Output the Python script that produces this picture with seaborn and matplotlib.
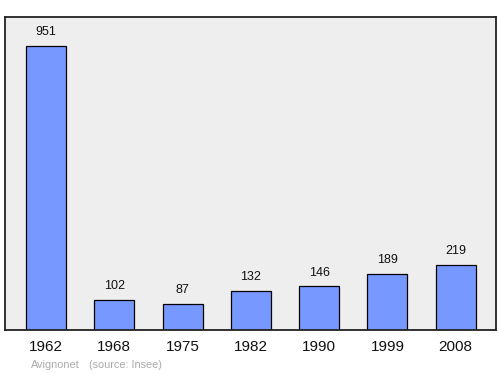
import matplotlib
matplotlib.use("Agg")
import matplotlib.pyplot as plt
import seaborn as sns
import pandas as pd

years = ["1962", "1968", "1975", "1982", "1990", "1999", "2008"]
population = [951, 102, 87, 132, 146, 189, 219]

sns.set_style("white")
plt.rcParams['font.family'] = ['Liberation Sans', 'DejaVu Sans']

df = pd.DataFrame({"year": years, "pop": population})

fig = plt.figure(figsize=(5, 3.74), dpi=100)
ax = fig.add_axes([0.01, 0.1176, 0.982, 0.837])
ax.set_facecolor("#eeeeee")

sns.barplot(data=df, x="year", y="pop", ax=ax, color="#7799ff", saturation=1,
            width=0.585, edgecolor="black", linewidth=0.9)

for i, v in enumerate(population):
    ax.annotate(str(v), (i, v), xytext=(0, 10), textcoords="offset points",
                ha="center", va="center", fontsize=9, color="#111111")

ax.set_xlim(-0.6, 6.59)
ax.set_ylim(0, 1048)
ax.set_xlabel("")
ax.set_ylabel("")
ax.set_yticks([])
ax.tick_params(axis="x", length=0, pad=7, labelsize=11, labelcolor="#111111")
for s in ax.spines.values():
    s.set_visible(True)
    s.set_color("#222222")
    s.set_linewidth(1.3)

fig.text(31/500, 1-365/374, "Avignonet", fontsize=7.8, color="#aaaaaa", va="center", ha="left")
fig.text(89/500, 1-365/374, "(source: Insee)", fontsize=7.8, color="#aaaaaa", va="center", ha="left")

fig.savefig("out.png", dpi=100, facecolor="white")
